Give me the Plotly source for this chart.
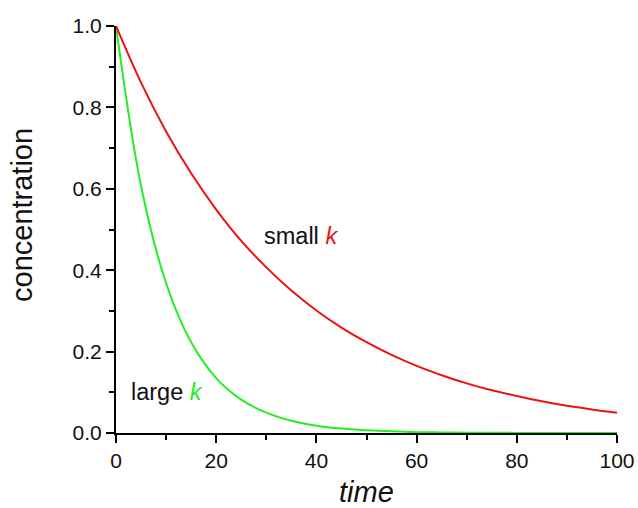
import plotly.graph_objects as go

time = [0, 5, 10, 15, 20, 25, 30, 35, 40, 45, 50, 55, 60, 65, 70, 75, 80, 85, 90, 95, 100]
small_k = [1.000, 0.861, 0.741, 0.638, 0.549, 0.472, 0.407, 0.350, 0.301, 0.259, 0.223,
           0.192, 0.165, 0.142, 0.122, 0.105, 0.091, 0.078, 0.067, 0.058, 0.050]
large_k = [1.000, 0.607, 0.368, 0.223, 0.135, 0.082, 0.050, 0.030, 0.018, 0.011, 0.007,
           0.004, 0.002, 0.0015, 0.0009, 0.0006, 0.0003, 0.0002, 0.0001, 0.0001, 0.0000]

x_ticks = [0, 20, 40, 60, 80, 100]
y_ticks = [0.0, 0.2, 0.4, 0.6, 0.8, 1.0]
y_tick_labels = ["0.0", "0.2", "0.4", "0.6", "0.8", "1.0"]

FONT = "Liberation Sans, Arial, sans-serif"
INK = "#111111"

fig = go.Figure()
fig.add_trace(go.Scatter(x=time, y=large_k, mode="lines",
                         line=dict(color="#22ee22", width=2, shape="spline"),
                         showlegend=False))
fig.add_trace(go.Scatter(x=time, y=small_k, mode="lines",
                         line=dict(color="#ee1111", width=2, shape="spline"),
                         showlegend=False))

fig.add_annotation(x=37.0, y=0.484, text="small <i><span style='color:#ee1111'>k</span></i>",
                   showarrow=False, xanchor="center", yanchor="middle",
                   font=dict(family=FONT, size=23.5, color=INK))
fig.add_annotation(x=10.2, y=0.10, text="large <i><span style='color:#22ee22'>k</span></i>",
                   showarrow=False, xanchor="center", yanchor="middle",
                   font=dict(family=FONT, size=23.5, color=INK))

# axis titles
fig.add_annotation(xref="paper", yref="paper", x=-(116 - 22) / 501, y=(433 - 215) / 407,
                   text="concentration", textangle=-90, showarrow=False,
                   xanchor="center", yanchor="middle",
                   font=dict(family=FONT, size=29, color=INK))
fig.add_annotation(xref="paper", yref="paper", x=(366.5 - 116) / 501, y=-(492 - 433) / 407,
                   text="<i>time</i>", showarrow=False,
                   xanchor="center", yanchor="middle",
                   font=dict(family=FONT, size=29, color=INK))

fig.update_layout(
    width=638, height=508,
    margin=dict(l=116, r=21, t=26, b=75),
    plot_bgcolor="white", paper_bgcolor="white",
    font=dict(family=FONT, color=INK),
    xaxis=dict(range=[0, 100], tickvals=x_ticks, ticks="outside", ticklen=8, tickwidth=2,
               tickcolor="black", automargin=False,
               showline=True, linewidth=2, linecolor="black", showgrid=False, zeroline=False,
               tickfont=dict(size=21, color=INK),
               minor=dict(dtick=10, ticks="outside", ticklen=5, tickwidth=2, tickcolor="black",
                          showgrid=False)),
    yaxis=dict(range=[0, 1], tickvals=y_ticks, ticktext=y_tick_labels, ticks="outside",
               ticklen=8, tickwidth=2, tickcolor="black", automargin=False,
               showline=True, linewidth=2, linecolor="black", showgrid=False, zeroline=False,
               tickfont=dict(size=21, color=INK),
               minor=dict(dtick=0.1, ticks="outside", ticklen=5, tickwidth=2, tickcolor="black",
                          showgrid=False)),
)

fig.write_html("out.html", config={"displayModeBar": False},
               post_script="document.body.style.margin='0';document.body.style.overflow='hidden';")
